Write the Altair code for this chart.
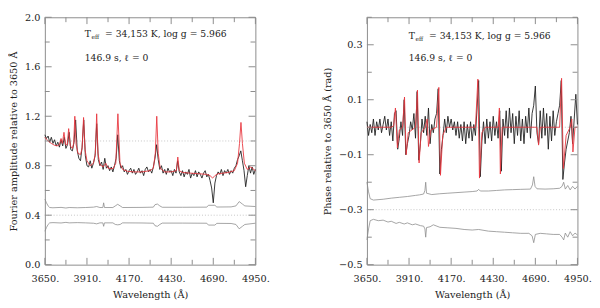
import altair as alt
import pandas as pd

# ---------------- data ----------------
wave = list(range(3650, 4951, 10))

amp_obs = [1.05, 1.02, 1.04, 0.99, 1.03, 0.98, 1.01, 0.96, 0.99, 0.95,
           1.01, 0.96, 1.03, 0.94, 0.97, 1.07, 0.93, 0.92, 0.99, 1.17,
           0.92, 0.86, 0.84, 0.95, 1.17, 0.88, 0.80, 0.79, 0.84, 0.78,
           0.82, 0.88, 1.14, 0.85, 0.80, 0.83, 0.77, 0.86, 0.78, 0.80,
           0.76, 0.79, 0.75, 0.80, 0.86, 1.05, 0.84, 0.78, 0.80, 0.75,
           0.77, 0.73, 0.76, 0.78, 0.74, 0.77, 0.73, 0.75, 0.78, 0.74,
           0.76, 0.72, 0.77, 0.79, 0.75, 0.77, 0.74, 0.79, 0.86, 0.97,
           0.85, 0.77, 0.80, 0.74, 0.77, 0.73, 0.78, 0.75, 0.76, 0.72,
           0.77, 0.74, 0.84, 0.75, 0.72, 0.76, 0.71, 0.75, 0.73, 0.77,
           0.70, 0.74, 0.72, 0.76, 0.71, 0.75, 0.73, 0.70, 0.74, 0.76,
           0.71, 0.73, 0.68, 0.62, 0.50, 0.66, 0.72, 0.75, 0.73, 0.77,
           0.72, 0.76, 0.74, 0.77, 0.73, 0.76, 0.74, 0.78, 0.80, 0.85,
           0.88, 0.92, 0.84, 0.76, 0.63, 0.72, 0.80, 0.74, 0.79, 0.73,
           0.77]

amp_model_wave = [3650, 3670, 3690, 3710, 3725, 3740, 3750, 3758, 3768, 3778,
                  3788, 3797, 3807, 3820, 3828, 3835, 3843, 3855, 3870, 3880,
                  3889, 3898, 3910, 3930, 3950, 3962, 3970, 3978, 3990, 4010,
                  4026, 4040, 4070, 4088, 4101, 4114, 4130, 4160, 4200, 4250,
                  4300, 4320, 4332, 4341, 4350, 4362, 4390, 4430, 4462, 4471,
                  4480, 4500, 4550, 4600, 4650, 4670, 4686, 4700, 4720, 4780,
                  4820, 4840, 4852, 4861, 4870, 4882, 4900, 4922, 4950]
amp_model = [1.03, 1.00, 0.98, 0.965, 0.96, 0.97, 1.02, 0.98, 1.07, 0.97,
             0.97, 1.10, 0.96, 0.94, 0.98, 1.20, 0.97, 0.90, 0.89, 0.94,
             1.19, 0.93, 0.84, 0.80, 0.82, 0.90, 1.22, 0.90, 0.81, 0.79,
             0.82, 0.78, 0.775, 0.82, 1.22, 0.82, 0.77, 0.755, 0.75, 0.75,
             0.76, 0.78, 0.90, 1.20, 0.90, 0.78, 0.75, 0.75, 0.76, 0.87,
             0.76, 0.745, 0.74, 0.735, 0.73, 0.72, 0.70, 0.72, 0.735, 0.745,
             0.76, 0.82, 0.98, 1.15, 0.98, 0.82, 0.77, 0.79, 0.76]

amp_err_wave = [3650, 3660, 3670, 3680, 3700, 3750, 3780, 3800, 3850, 3900,
                3950, 3970, 3990, 4008, 4013, 4018, 4070, 4085, 4100, 4115,
                4130, 4250, 4320, 4330, 4345, 4360, 4375, 4500, 4650, 4660,
                4700, 4712, 4800, 4830, 4850, 4870, 4885, 4950]
amp_err_hi = [0.53, 0.50, 0.475, 0.462, 0.460, 0.463, 0.458, 0.462, 0.460, 0.462,
              0.465, 0.470, 0.462, 0.462, 0.500, 0.462, 0.462, 0.475, 0.488, 0.475,
              0.462, 0.463, 0.465, 0.485, 0.490, 0.475, 0.464, 0.464, 0.465, 0.480,
              0.480, 0.466, 0.467, 0.475, 0.510, 0.490, 0.475, 0.470]
amp_err_lo = [0.27, 0.30, 0.325, 0.338, 0.340, 0.337, 0.342, 0.338, 0.340, 0.338,
              0.335, 0.330, 0.338, 0.338, 0.310, 0.338, 0.338, 0.325, 0.322, 0.325,
              0.338, 0.337, 0.335, 0.315, 0.310, 0.325, 0.336, 0.336, 0.335, 0.320,
              0.320, 0.334, 0.333, 0.325, 0.290, 0.310, 0.325, 0.335]

phase_obs = [0.02, -0.03, 0.01, -0.02, 0.03, -0.03, 0.02, -0.01, 0.03, -0.02,
             0.01, 0.04, -0.01, 0.03, -0.03, 0.02, -0.05, 0.05, 0.06, -0.08,
             -0.04, 0.02, -0.03, 0.10, -0.10, -0.06, -0.03, 0.02, -0.01, 0.05,
             -0.04, 0.13, -0.12, -0.06, 0.03, -0.02, 0.04, -0.03, 0.07, -0.06,
             0.01, -0.02, 0.03, 0.05, 0.14, -0.17, -0.08, -0.03, 0.03, -0.02,
             0.04, 0.00, 0.03, -0.01, 0.02, -0.03, 0.02, -0.04, 0.01, -0.05,
             0.02, -0.06, 0.01, -0.04, 0.02, -0.05, 0.01, -0.03, 0.07, 0.17,
             -0.18, -0.05, 0.02, -0.06, 0.03, -0.04, 0.02, -0.05, 0.04, -0.03,
             0.02, -0.04, 0.06, -0.16, 0.03, -0.03, 0.06, -0.04, 0.07, -0.02,
             0.05, -0.06, 0.04, -0.03, 0.06, -0.05, 0.03, -0.06, 0.04, -0.02,
             0.07, -0.04, 0.05, 0.08, 0.15, -0.02, -0.06, 0.06, -0.04, 0.07,
             -0.03, 0.05, -0.08, 0.04, -0.05, 0.06, -0.03, 0.02, 0.05, 0.08,
             0.17, -0.19, -0.13, -0.08, -0.05, -0.02, 0.04, -0.06, 0.03, 0.12,
             0.01]

phase_model_wave = [3650, 3800, 3815, 3826, 3838, 3850, 3870, 3882, 3892, 3905,
                    3950, 3962, 3972, 3985, 4010, 4022, 4030, 4045, 4080, 4094,
                    4104, 4118, 4140, 4320, 4335, 4345, 4360, 4380, 4460, 4468,
                    4474, 4485, 4700, 4710, 4720, 4840, 4852, 4863, 4880, 4905,
                    4915, 4922, 4935, 4950]
phase_model = [0.0, 0.0, 0.005, 0.07, -0.075, -0.01, 0.0, 0.11, -0.10, -0.02,
               0.0, 0.135, -0.13, -0.02, 0.0, 0.03, -0.07, -0.01, 0.0, 0.145,
               -0.175, -0.03, 0.0, 0.0, 0.175, -0.185, -0.02, 0.0, 0.0, 0.07,
               -0.17, 0.0, 0.0, -0.065, 0.0, 0.0, 0.178, -0.15, -0.03, 0.0,
               0.03, -0.09, 0.0, 0.0]

ph_err_hi_wave = [3650, 3660, 3670, 3690, 3750, 3800, 3850, 3900, 3950, 3975,
                  4000, 4008, 4013, 4018, 4050, 4100, 4150, 4200, 4250, 4300,
                  4330, 4340, 4350, 4400, 4450, 4500, 4550, 4600, 4660, 4672,
                  4680, 4688, 4700, 4750, 4800, 4840, 4855, 4865, 4875, 4890,
                  4905, 4920, 4935, 4950]
ph_err_hi = [-0.20, -0.235, -0.26, -0.265, -0.262, -0.258, -0.255, -0.252, -0.248, -0.246,
             -0.243, -0.23, -0.20, -0.24, -0.245, -0.242, -0.24, -0.238, -0.236, -0.234,
             -0.232, -0.226, -0.232, -0.232, -0.23, -0.228, -0.227, -0.226, -0.225, -0.21,
             -0.18, -0.215, -0.224, -0.225, -0.224, -0.222, -0.215, -0.20, -0.225, -0.212,
             -0.228, -0.215, -0.225, -0.215]
ph_err_lo_wave = [3650, 3660, 3670, 3690, 3720, 3750, 3780, 3800, 3830, 3850,
                  3880, 3900, 3930, 3950, 3980, 4000, 4008, 4013, 4018, 4040,
                  4060, 4100, 4150, 4200, 4250, 4300, 4340, 4400, 4450, 4500,
                  4550, 4600, 4650, 4670, 4680, 4690, 4720, 4760, 4800, 4840,
                  4855, 4865, 4875, 4890, 4905, 4920, 4935, 4950]
ph_err_lo = [-0.41, -0.37, -0.34, -0.335, -0.34, -0.338, -0.345, -0.342, -0.35, -0.346,
             -0.352, -0.348, -0.355, -0.352, -0.358, -0.36, -0.37, -0.40, -0.365, -0.362,
             -0.355, -0.364, -0.366, -0.368, -0.372, -0.374, -0.372, -0.378, -0.38, -0.382,
             -0.384, -0.386, -0.386, -0.395, -0.42, -0.39, -0.386, -0.388, -0.39, -0.39,
             -0.40, -0.41, -0.385, -0.40, -0.38, -0.395, -0.385, -0.392]

x_ticks_major = [3650, 3910, 4170, 4430, 4690, 4950]
x_ticks_minor = [3780, 4040, 4300, 4560, 4820]
amp_ticks_major = [0.0, 0.4, 0.8, 1.2, 1.6, 2.0]
amp_ticks_minor = [0.2, 0.6, 1.0, 1.4, 1.8]
ph_ticks_major = [-0.5, -0.3, -0.1, 0.1, 0.3]
ph_ticks_minor = [-0.4, -0.2, 0.0, 0.2, 0.4]
amp_ref_lines = [1.0, 0.4]
ph_ref_lines = [0.0, -0.3]

line1_rest = "= 34,153 K, log g = 5.966"
line2_text = "146.9 s,  \u2113 = 0"
amp_ann = {"x": 3896, "y1": 1.867, "y2": 1.671}
ph_ann = {"x": 3908, "y1": 0.331, "y2": 0.251}

# ---------------- styling ----------------
W, H = 217, 255
FONT = "DejaVu Serif"
FRAME = "#8a8a8a"
TXT = "#222222"
MAJ, MIN = 7, 5


def panel(obs, m_wave, m_val, hi_wave, hi_val, lo_wave, lo_val, refs,
          ydom, ymaj, ymin_, ytitle, ann):
    xs = alt.Scale(domain=[3650, 4950], nice=False, zero=False)
    ys = alt.Scale(domain=ydom, nice=False, zero=False)
    xax = alt.Axis(values=x_ticks_major, format="d", labelExpr="datum.label + '.'",
                   ticks=False, domain=False, grid=False, title="Wavelength (\u00c5)",
                   labelPadding=9, titlePadding=7, labelFlush=False)
    yax = alt.Axis(values=ymaj, format=".1f", ticks=False, domain=False, grid=False,
                   title=ytitle, labelPadding=5, titlePadding=6)

    def X(f):
        return alt.X(f, type="quantitative", scale=xs, axis=xax)

    def Y(f):
        return alt.Y(f, type="quantitative", scale=ys, axis=yax)

    obs_df = pd.DataFrame({"w": wave, "v": obs})
    mod_df = pd.DataFrame({"w": m_wave, "v": m_val})
    err_df = pd.concat([
        pd.DataFrame({"w": hi_wave, "v": hi_val, "s": "hi"}),
        pd.DataFrame({"w": lo_wave, "v": lo_val, "s": "lo"}),
    ])
    ref_df = pd.DataFrame({"v": refs})

    layers = []
    layers.append(alt.Chart(ref_df).mark_rule(color="#b5b5b5", strokeWidth=0.8,
                                              strokeDash=[1, 2]).encode(y=Y("v")))
    layers.append(alt.Chart(err_df).mark_line(color="#8c8c8c", strokeWidth=0.8).encode(
        x=X("w"), y=Y("v"), detail="s:N"))
    layers.append(alt.Chart(obs_df).mark_line(color="#1e1e1e", strokeWidth=0.9).encode(
        x=X("w"), y=Y("v")))
    layers.append(alt.Chart(mod_df).mark_line(color="#e8353d", strokeWidth=0.9).encode(
        x=X("w"), y=Y("v")))

    # inward ticks on all four sides
    for vals, ln in [(x_ticks_major, MAJ), (x_ticks_minor, MIN)]:
        d = pd.DataFrame({"t": vals})
        layers.append(alt.Chart(d).mark_rule(color=FRAME, strokeWidth=1).encode(
            x=X("t"), y=alt.value(H), y2=alt.value(H - ln)))
        layers.append(alt.Chart(d).mark_rule(color=FRAME, strokeWidth=1).encode(
            x=X("t"), y=alt.value(0), y2=alt.value(ln)))
    for vals, ln in [(ymaj, MAJ), (ymin_, MIN)]:
        d = pd.DataFrame({"t": vals})
        layers.append(alt.Chart(d).mark_rule(color=FRAME, strokeWidth=1).encode(
            y=Y("t"), x=alt.value(0), x2=alt.value(ln)))
        layers.append(alt.Chart(d).mark_rule(color=FRAME, strokeWidth=1).encode(
            y=Y("t"), x=alt.value(W), x2=alt.value(W - ln)))

    a1 = pd.DataFrame({"x": [ann["x"]], "y": [ann["y1"]]})
    a2 = pd.DataFrame({"x": [ann["x"]], "y": [ann["y2"]]})
    txt = dict(font=FONT, color=TXT, align="left", baseline="middle")
    layers.append(alt.Chart(a1).mark_text(text="T", fontSize=9.5, **txt).encode(
        x=X("x"), y=Y("y")))
    layers.append(alt.Chart(a1).mark_text(text="eff", fontSize=6, dx=7, dy=3, **txt).encode(
        x=X("x"), y=Y("y")))
    layers.append(alt.Chart(a1).mark_text(text=line1_rest, fontSize=9.5, dx=21, **txt).encode(
        x=X("x"), y=Y("y")))
    layers.append(alt.Chart(a2).mark_text(text=line2_text, fontSize=9.5, **txt).encode(
        x=X("x"), y=Y("y")))

    return alt.layer(*layers).properties(width=W, height=H)


left = panel(amp_obs, amp_model_wave, amp_model, amp_err_wave, amp_err_hi,
             amp_err_wave, amp_err_lo, amp_ref_lines, [0.0, 2.0],
             amp_ticks_major, amp_ticks_minor,
             "Fourier amplitude relative to 3650 \u00c5", amp_ann)
right = panel(phase_obs, phase_model_wave, phase_model, ph_err_hi_wave, ph_err_hi,
              ph_err_lo_wave, ph_err_lo, ph_ref_lines, [-0.5, 0.4],
              ph_ticks_major, ph_ticks_minor,
              "Phase relative to 3650 \u00c5 (rad)", ph_ann)

chart = (
    alt.hconcat(left, right, spacing=54)
    .properties(padding={"left": 0, "top": -1, "right": 0, "bottom": 0})
    .configure_view(stroke=FRAME, strokeWidth=1)
    .configure_axis(labelFont=FONT, titleFont=FONT, labelFontSize=10, titleFontSize=10,
                    titleFontWeight="normal", labelColor=TXT, titleColor=TXT)
)

chart.save("out.html", embed_options={"renderer": "svg", "actions": False})
